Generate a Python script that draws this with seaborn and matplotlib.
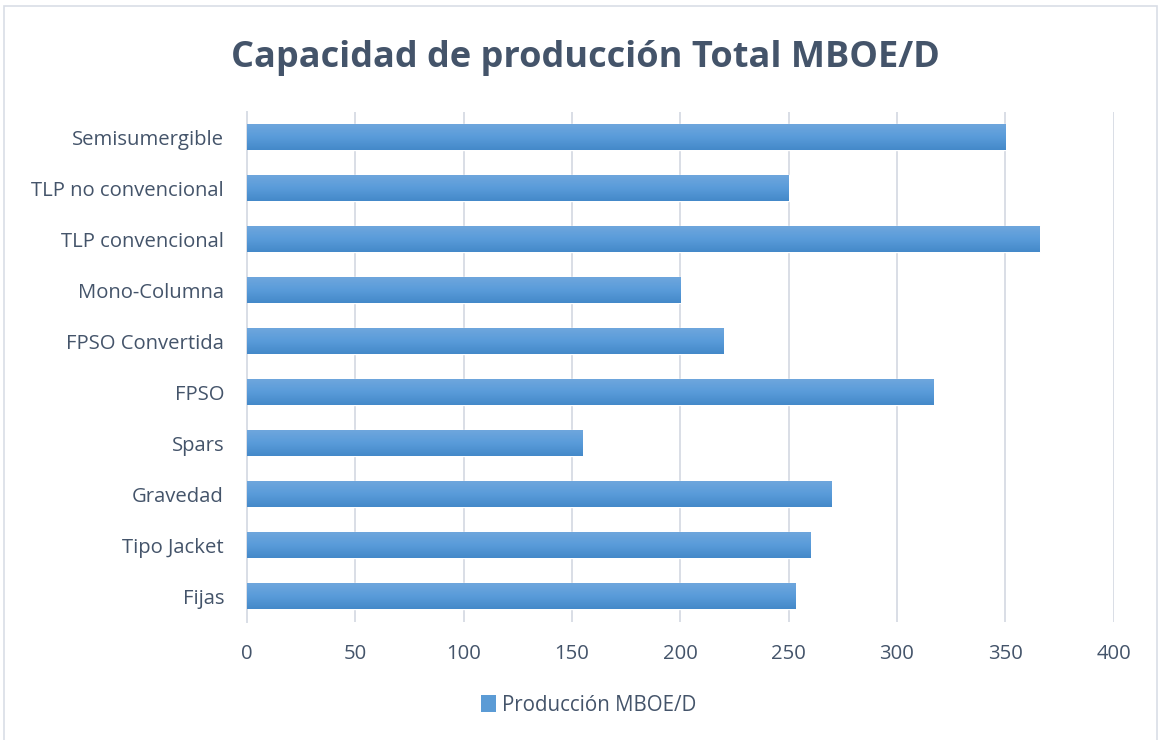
import numpy as np
import pandas as pd
import matplotlib.pyplot as plt
import seaborn as sns
from matplotlib.patches import Patch, Rectangle
from matplotlib.colors import LinearSegmentedColormap

# Categories (top to bottom as drawn) and production values
categorias = ['Semisumergible', 'TLP no convencional', 'TLP convencional', 'Mono-Columna',
              'FPSO Convertida', 'FPSO', 'Spars', 'Gravedad', 'Tipo Jacket', 'Fijas']
produccion = [350, 250, 366, 200, 220, 317, 155, 270, 260, 253]
ticks_x = [0, 50, 100, 150, 200, 250, 300, 350, 400]
serie = 'Producción MBOE/D'

df = pd.DataFrame({'Tipo': categorias, 'Produccion': produccion})

sns.set_style('white')
plt.rcParams['font.family'] = ['Open Sans', 'DejaVu Sans']

text_color = '#44546A'
grid_color = '#D9DEE6'

fig = plt.figure(figsize=(11.59, 7.4), dpi=100)
ax = fig.add_axes([0.2131, 0.1601, 0.7477, 0.6892])

sns.barplot(data=df, x='Produccion', y='Tipo', order=categorias, orient='h',
            color='#5B9BD5', width=0.51, saturation=1, ax=ax)

# gradient fill on each bar (light top, darker bottom)
cmap = LinearSegmentedColormap.from_list('grad', ['#70A7DD', '#5A9CDA', '#4489C9'])
grad = np.linspace(0, 1, 64).reshape(-1, 1)
for p in list(ax.patches):
    x0, y0, w, h = p.get_x(), p.get_y(), p.get_width(), p.get_height()
    im = ax.imshow(grad, cmap=cmap, aspect='auto', origin='upper',
                   extent=(x0, x0 + w, y0 + h, y0), zorder=3)
    im.set_clip_path(p)

ax.set_xlim(0, 400)
ax.set_ylim(len(categorias) - 0.5, -0.5)
ax.set_xticks(ticks_x)
ax.set_xlabel('')
ax.set_ylabel('')
ax.grid(axis='x', color=grid_color, linewidth=1.4)
ax.set_axisbelow(True)
for s in ['top', 'right', 'bottom']:
    ax.spines[s].set_visible(False)
ax.spines['left'].set_color(grid_color)
ax.spines['left'].set_linewidth(1.4)
ax.tick_params(axis='both', length=0, labelsize=14.6, colors=text_color)
ax.tick_params(axis='x', pad=16)
ax.tick_params(axis='y', pad=16.5)

fig.suptitle('Capacidad de producción Total MBOE/D', x=0.505, y=0.946,
             fontsize=26, fontweight='bold', color=text_color)

handle = Patch(facecolor='#5B9BD5', edgecolor='none')
fig.legend([handle], [serie], loc='center', bbox_to_anchor=(0.508, 0.047),
           frameon=False, fontsize=14.8, labelcolor=text_color,
           handlelength=0.7, handleheight=0.9, handletextpad=0.3)

# light chart border
fig.patches.append(Rectangle((0.0035, -0.01), 0.995, 1.002, transform=fig.transFigure,
                             fill=False, edgecolor=grid_color, linewidth=1.2))

fig.savefig('out.png', dpi=100)
